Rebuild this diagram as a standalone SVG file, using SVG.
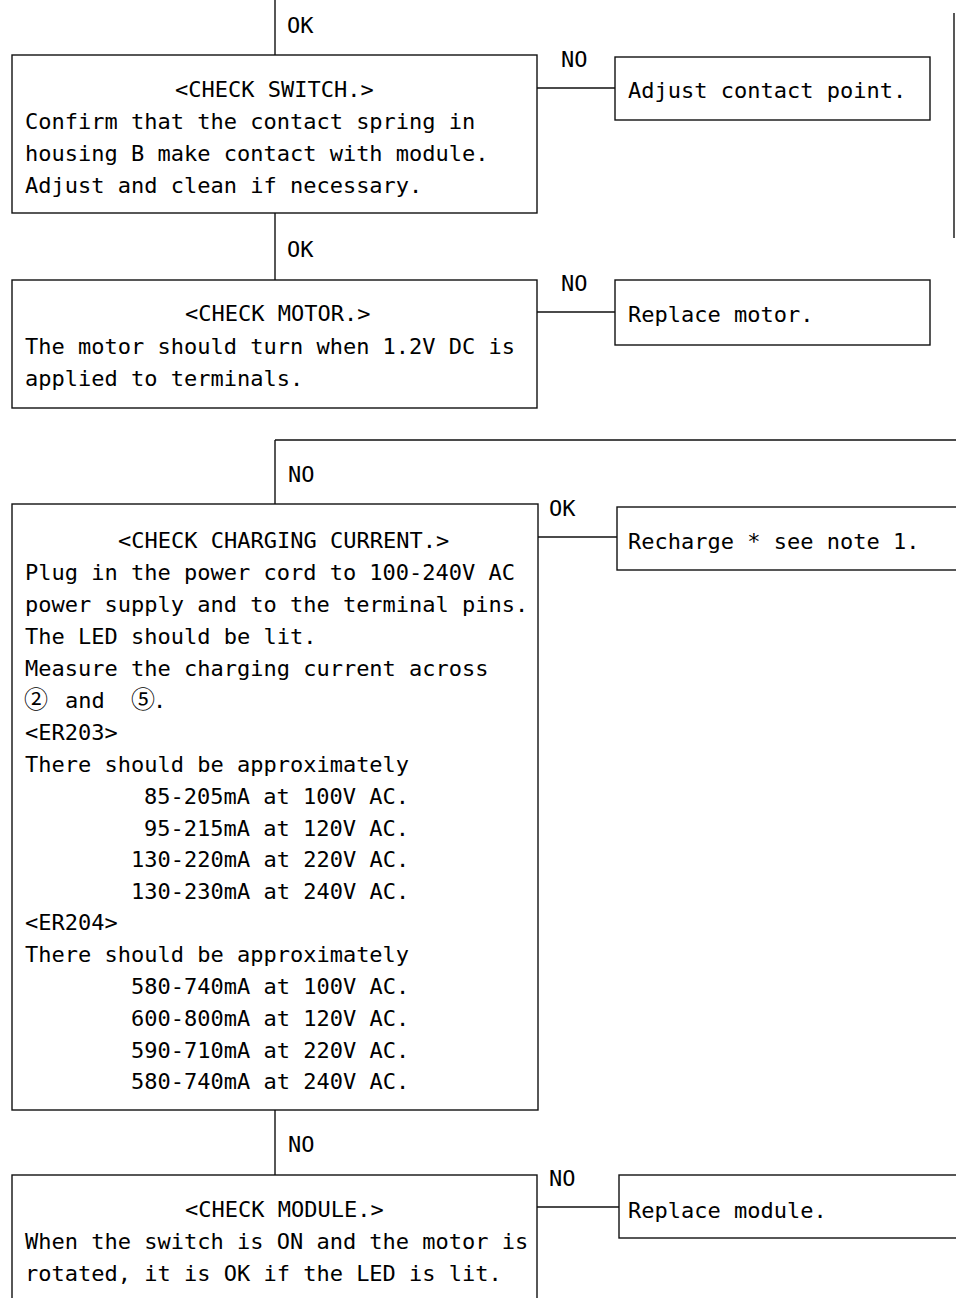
<svg xmlns="http://www.w3.org/2000/svg" width="956" height="1298" viewBox="0 0 956 1298">
<style>
  .box { fill: #fff; stroke: #111; stroke-width: 1.4; }
  .ln { fill: none; stroke: #111; stroke-width: 1.4; }
  text { font-family: "DejaVu Sans Mono", "Liberation Mono", "Noto Sans CJK JP", monospace; font-size: 22px; fill: #000; }
  .lbl { font-size: 22px; }
  .circ { font-family: "Noto Sans CJK JP", "DejaVu Sans", sans-serif; font-size: 24px; }
</style>
<rect width="956" height="1298" fill="#fff"/>
<g id="connectors">
  <path class="ln" d="M275 0V55 M275 213V280 M275 440H956 M275 440V504 M275 1110V1175"/>
  <path class="ln" d="M537 88H615 M537 312H615 M537 537H617 M537 1207H619"/>
  <path class="ln" d="M954 13V238"/>
  <text class="lbl" x="287" y="33">OK</text>
  <text class="lbl" x="561" y="67">NO</text>
  <text class="lbl" x="287" y="257">OK</text>
  <text class="lbl" x="561" y="291">NO</text>
  <text class="lbl" x="288" y="482">NO</text>
  <text class="lbl" x="549" y="516">OK</text>
  <text class="lbl" x="288" y="1152">NO</text>
  <text class="lbl" x="549" y="1186">NO</text>
</g>
<g id="check-switch">
  <rect class="box" x="12" y="55" width="525" height="158"/>
  <text x="175" y="97">&lt;CHECK SWITCH.&gt;</text>
  <text x="25" y="129">Confirm that the contact spring in</text>
  <text x="25" y="161">housing B make contact with module.</text>
  <text x="25" y="193">Adjust and clean if necessary.</text>
</g>
<g id="adjust-contact">
  <rect class="box" x="615" y="57" width="315" height="63"/>
  <text x="628" y="98">Adjust contact point.</text>
</g>
<g id="check-motor">
  <rect class="box" x="12" y="280" width="525" height="128"/>
  <text x="185" y="321">&lt;CHECK MOTOR.&gt;</text>
  <text x="25" y="354">The motor should turn when 1.2V DC is</text>
  <text x="25" y="386">applied to terminals.</text>
</g>
<g id="replace-motor">
  <rect class="box" x="615" y="280" width="315" height="65"/>
  <text x="628" y="322">Replace motor.</text>
</g>
<g id="check-charging">
  <rect class="box" x="12" y="504" width="526" height="606"/>
  <text x="118" y="548">&lt;CHECK CHARGING CURRENT.&gt;</text>
  <text x="25" y="580">Plug in the power cord to 100-240V AC</text>
  <text x="25" y="612">power supply and to the terminal pins.</text>
  <text x="25" y="644">The LED should be lit.</text>
  <text x="25" y="676">Measure the charging current across</text>
  <text y="708"><tspan class="circ" x="24">②</tspan><tspan x="65">and</tspan><tspan class="circ" x="131">⑤</tspan><tspan x="153">.</tspan></text>
  <text x="25" y="740">&lt;ER203&gt;</text>
  <text x="25" y="772">There should be approximately</text>
  <text x="144" y="804">85-205mA at 100V AC.</text>
  <text x="144" y="836">95-215mA at 120V AC.</text>
  <text x="131" y="867">130-220mA at 220V AC.</text>
  <text x="131" y="899">130-230mA at 240V AC.</text>
  <text x="25" y="930">&lt;ER204&gt;</text>
  <text x="25" y="962">There should be approximately</text>
  <text x="131" y="994">580-740mA at 100V AC.</text>
  <text x="131" y="1026">600-800mA at 120V AC.</text>
  <text x="131" y="1058">590-710mA at 220V AC.</text>
  <text x="131" y="1089">580-740mA at 240V AC.</text>
</g>
<g id="recharge">
  <rect class="box" x="617" y="507" width="350" height="63"/>
  <text x="628" y="549">Recharge * see note 1.</text>
</g>
<g id="check-module">
  <rect class="box" x="12" y="1175" width="525" height="140"/>
  <text x="185" y="1217">&lt;CHECK MODULE.&gt;</text>
  <text x="25" y="1249">When the switch is ON and the motor is</text>
  <text x="25" y="1281">rotated, it is OK if the LED is lit.</text>
</g>
<g id="replace-module">
  <rect class="box" x="619" y="1175" width="350" height="63"/>
  <text x="628" y="1218">Replace module.</text>
</g>
</svg>
